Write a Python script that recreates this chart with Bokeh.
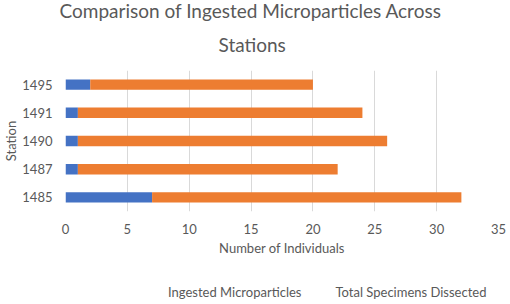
from bokeh.plotting import figure
from bokeh.models import FactorRange, Range1d, Title, Legend, LegendItem, ColumnDataSource
from bokeh.layouts import column
from bokeh.embed import file_html
from bokeh.resources import INLINE

stations = ["1485", "1487", "1490", "1491", "1495"]
ingested = [7, 1, 1, 1, 2]
dissected = [25, 21, 25, 23, 18]
x_ticks = [0, 5, 10, 15, 20, 25, 30, 35]
series_names = ["Ingested Microparticles", "Total Specimens Dissected"]

BLUE = "#4472C4"
ORANGE = "#ED7D31"
GRAY = "#595959"
FONT = "Lato"

data = dict(station=stations, ingested=ingested, dissected=dissected)

p = figure(frame_width=433, frame_height=141, y_range=FactorRange(*stations, range_padding=0),
           x_range=Range1d(0, 35), output_backend="svg", toolbar_location=None,
           min_border_left=64, min_border_right=13, min_border_top=70, min_border_bottom=64)
p.title = None
p.outline_line_color = None

rs = p.hbar_stack(["ingested", "dissected"], y="station", height=0.37, color=[BLUE, ORANGE],
                  line_color=None, source=data)

p.add_layout(Title(text="Stations", align="left", offset=153, text_font=FONT,
                   text_font_size="19px", text_color=GRAY, text_font_style="normal",
                   standoff=29), "above")
p.add_layout(Title(text="Comparison of Ingested Microparticles Across", align="left", offset=-6,
                   text_font=FONT, text_font_size="19px", text_color=GRAY,
                   text_font_style="normal", standoff=-11), "above")

p.xaxis.ticker = x_ticks
p.xaxis.axis_line_color = None
p.xaxis.major_tick_line_color = None
p.xaxis.minor_tick_line_color = None
p.xaxis.major_label_text_font = FONT
p.xaxis.major_label_text_font_size = "13px"
p.xaxis.major_label_text_color = GRAY
p.xaxis.major_label_standoff = 6
p.xaxis.axis_label = "Number of Individuals"
p.xaxis.axis_label_text_font = FONT
p.xaxis.axis_label_text_font_size = "13px"
p.xaxis.axis_label_text_font_style = "normal"
p.xaxis.axis_label_text_color = GRAY
p.xaxis.axis_label_standoff = 3

p.yaxis.axis_line_color = None
p.yaxis.major_tick_line_color = None
p.yaxis.minor_tick_line_color = None
p.yaxis.major_label_text_font = FONT
p.yaxis.major_label_text_font_size = "13px"
p.yaxis.major_label_text_color = GRAY
p.yaxis.major_label_standoff = 7
p.yaxis.axis_label = "Station"
p.yaxis.axis_label_text_font = FONT
p.yaxis.axis_label_text_font_size = "13px"
p.yaxis.axis_label_text_font_style = "normal"
p.yaxis.axis_label_text_color = GRAY
p.yaxis.axis_label_standoff = 0

p.xgrid.grid_line_color = "#D9D9D9"
p.ygrid.grid_line_color = None

# legend strip below the chart
leg = figure(width=510, height=29, x_range=Range1d(0, 1), y_range=Range1d(0, 1),
             output_backend="svg", toolbar_location=None, x_axis_type=None, y_axis_type=None,
             min_border=0, min_border_left=0, min_border_right=0, min_border_top=0,
             min_border_bottom=0)
leg.title = None
leg.outline_line_color = None
leg.xgrid.visible = False
leg.ygrid.visible = False
empty = ColumnDataSource(data=dict(y=[], right=[]))
r1 = leg.hbar(y="y", right="right", height=1, color=BLUE, line_color=None, source=empty)
r2 = leg.hbar(y="y", right="right", height=1, color=ORANGE, line_color=None, source=empty)

legend = Legend(items=[LegendItem(label=series_names[0], renderers=[r1]),
                       LegendItem(label=series_names[1], renderers=[r2])],
                orientation="horizontal", location=(93, 4),
                label_text_font=FONT, label_text_font_size="13px", label_text_color=GRAY,
                label_height=14, glyph_width=6, glyph_height=6, spacing=24, padding=3,
                margin=0, border_line_color=None, background_fill_alpha=0, label_standoff=4)
leg.add_layout(legend, "center")

layout = column(p, leg, spacing=0)
open("out.html", "w").write(file_html(layout, INLINE))
